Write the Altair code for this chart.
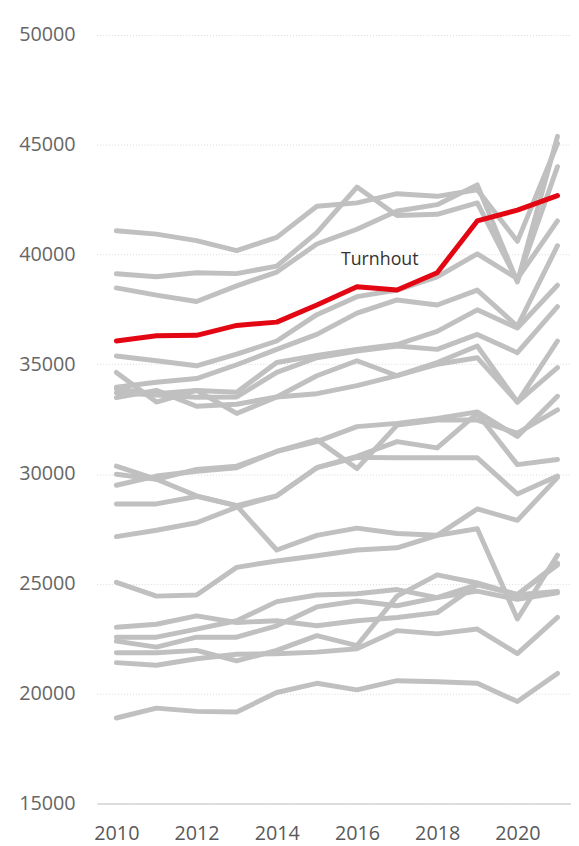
import altair as alt
import pandas as pd

years = [2010, 2011, 2012, 2013, 2014, 2015, 2016, 2017, 2018, 2019, 2020, 2021]

highlight_name = "Turnhout"
turnhout = [36060, 36300, 36320, 36770, 36920, 37700, 38530, 38380, 39170, 41530, 42020, 42680]

others = {
    "g01": [41080, 40930, 40630, 40180, 40780, 42200, 42350, 42770, 42650, 42950, 40600, 45050],
    "g02": [39120, 38990, 39170, 39130, 39470, 41000, 43070, 41780, 41830, 42350, 38800, 44000],
    "g03": [38480, 38150, 37860, 38570, 39200, 40480, 41150, 41980, 42270, 43170, 38750, 45380],
    "g04": [35380, 35160, 34930, 35460, 36060, 37260, 38080, 38380, 38980, 40030, 38900, 41530],
    "g05": [33960, 34180, 34350, 34980, 35680, 36360, 37330, 37930, 37700, 38380, 36730, 40400],
    "g06": [34630, 33280, 33810, 33730, 35080, 35400, 35680, 35900, 36500, 37480, 36650, 38600],
    "g07": [33700, 33600, 33500, 33510, 34630, 35300, 35600, 35830, 35680, 36360, 35530, 37630],
    "g08": [33880, 33660, 33810, 32760, 33510, 34480, 35160, 34480, 35080, 35830, 33280, 36060],
    "g09": [33480, 33810, 33090, 33180, 33510, 33660, 34030, 34480, 35000, 35300, 33280, 34850],
    "g10": [29990, 29760, 30210, 30360, 31030, 31480, 32160, 32310, 32530, 32830, 31710, 33540],
    "g11": [29490, 29910, 30130, 30290, 31030, 31560, 30250, 32230, 32460, 32460, 31860, 32920],
    "g12": [28640, 28640, 28980, 28560, 29010, 30290, 30810, 31480, 31190, 32760, 30430, 30660],
    "g13": [27150, 27440, 27780, 28490, 29010, 30290, 30760, 30740, 30740, 30740, 29090, 29910],
    "g14": [30360, 29760, 29010, 28560, 26540, 27210, 27540, 27290, 27210, 27510, 23400, 26310],
    "g15": [25070, 24440, 24490, 25750, 26040, 26280, 26540, 26640, 27210, 28410, 27890, 29840],
    "g16": [23020, 23160, 23540, 23240, 23320, 23090, 23320, 23470, 23690, 24960, 24510, 25940],
    "g17": [22570, 22570, 22940, 23320, 24190, 24490, 24550, 24740, 24370, 24670, 24290, 24590],
    "g18": [22390, 22120, 22570, 22570, 23090, 23950, 24220, 24000, 24370, 24960, 24510, 25860],
    "g19": [21860, 21860, 21970, 21490, 21970, 22640, 22190, 24440, 25410, 25040, 24510, 24650],
    "g20": [21410, 21290, 21590, 21790, 21820, 21890, 22040, 22870, 22720, 22940, 21820, 23470],
    "g21": [18890, 19340, 19190, 19160, 20050, 20470, 20170, 20590, 20540, 20470, 19640, 20920],
}

y_ticks = [15000, 20000, 25000, 30000, 35000, 40000, 45000, 50000]
x_ticks = [2010, 2012, 2014, 2016, 2018, 2020]

label_year = [2015.6]
label_value = [39750]

rows = []
for name, vals in others.items():
    for yr, v in zip(years, vals):
        rows.append({"name": name, "year": yr, "value": v})
gray_df = pd.DataFrame(rows)
red_df = pd.DataFrame({"name": highlight_name, "year": years, "value": turnhout})
label_df = pd.DataFrame({"year": label_year, "value": label_value, "text": [highlight_name]})

xscale = alt.Scale(domain=[2009.515, 2021.337], nice=False, zero=False)
yscale = alt.Scale(domain=[15000, 50000], nice=False, zero=False)

x_axis = alt.Axis(
    values=x_ticks, format="d", title=None, grid=False, ticks=False,
    domain=True, domainColor="#d4d4d4", domainWidth=1.5,
    labelFont="Open Sans", labelFontSize=20, labelColor="#595959",
    labelPadding=21, labelBaseline="top",
)
y_axis = alt.Axis(
    values=y_ticks, format="d", title=None, grid=True, gridColor="#d9d9d9",
    gridDash=[1, 2], gridWidth=1, ticks=False, domain=False,
    labelFont="Open Sans", labelFontSize=20, labelColor="#666666",
    labelPadding=22,
)

gray = alt.Chart(gray_df).mark_line(
    color="#c0c0c0", strokeWidth=5, strokeCap="round", strokeJoin="round"
).encode(
    x=alt.X("year:Q", scale=xscale, axis=x_axis),
    y=alt.Y("value:Q", scale=yscale, axis=y_axis),
    detail="name:N",
)

red = alt.Chart(red_df).mark_line(
    color="#e30613", strokeWidth=5, strokeCap="round", strokeJoin="round"
).encode(
    x=alt.X("year:Q", scale=xscale),
    y=alt.Y("value:Q", scale=yscale),
)

label = alt.Chart(label_df).mark_text(
    align="left", baseline="middle", font="Open Sans", fontSize=18, color="#333333"
).encode(
    x=alt.X("year:Q", scale=xscale),
    y=alt.Y("value:Q", scale=yscale),
    text="text:N",
)

chart = alt.layer(gray, red, label).properties(
    width=480, height=778,
    autosize=alt.AutoSizeParams(type="none"),
    padding={"left": 90, "top": 22, "right": 0, "bottom": 50},
).configure_view(stroke=None)

chart.save("out.html", embed_options={"renderer": "svg", "actions": False})
